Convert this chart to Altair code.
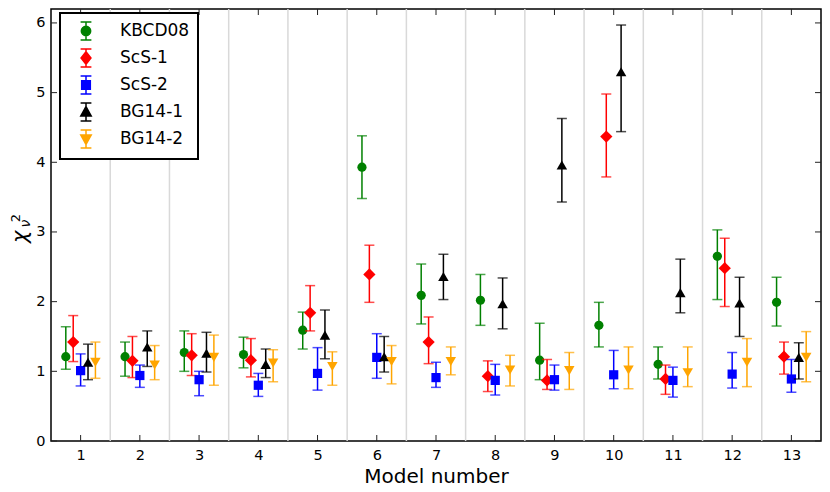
import altair as alt
import pandas as pd

models = list(range(1, 14))
series = ["KBCD08", "ScS-1", "ScS-2", "BG14-1", "BG14-2"]

kbcd_val = [1.21, 1.21, 1.27, 1.24, 1.59, 3.93, 2.09, 2.02, 1.16, 1.66, 1.10, 2.65, 1.99]
kbcd_hi = [1.64, 1.42, 1.58, 1.49, 1.85, 4.38, 2.54, 2.39, 1.69, 1.99, 1.35, 3.03, 2.35]
kbcd_lo = [1.03, 0.93, 1.00, 1.05, 1.32, 3.48, 1.68, 1.66, 0.88, 1.35, 0.89, 2.03, 1.65]

scs1_val = [1.42, 1.15, 1.23, 1.16, 1.84, 2.39, 1.42, 0.93, 0.87, 4.37, 0.89, 2.48, 1.21]
scs1_hi = [1.80, 1.50, 1.54, 1.47, 2.23, 2.81, 1.78, 1.15, 1.17, 4.98, 1.09, 2.91, 1.42]
scs1_lo = [1.14, 0.91, 0.94, 0.92, 1.58, 1.99, 1.11, 0.71, 0.74, 3.79, 0.67, 1.93, 0.96]

scs2_val = [1.01, 0.94, 0.88, 0.80, 0.97, 1.20, 0.91, 0.87, 0.88, 0.95, 0.87, 0.96, 0.89]
scs2_hi = [1.25, 1.09, 1.00, 0.97, 1.34, 1.54, 1.13, 1.10, 1.09, 1.30, 1.06, 1.27, 1.17]
scs2_lo = [0.79, 0.77, 0.65, 0.64, 0.73, 0.90, 0.77, 0.66, 0.73, 0.75, 0.63, 0.76, 0.70]

bg1_val = [1.13, 1.35, 1.26, 1.10, 1.52, 1.21, 2.36, 1.97, 3.96, 5.30, 2.13, 1.98, 1.20]
bg1_hi = [1.39, 1.58, 1.56, 1.32, 1.88, 1.50, 2.68, 2.34, 4.63, 5.97, 2.61, 2.35, 1.41]
bg1_lo = [0.88, 1.07, 0.99, 0.91, 1.18, 0.99, 2.03, 1.61, 3.43, 4.44, 1.84, 1.50, 0.89]

bg2_val = [1.13, 1.09, 1.20, 1.12, 1.07, 1.14, 1.14, 1.02, 1.01, 1.02, 0.98, 1.13, 1.20]
bg2_hi = [1.42, 1.37, 1.52, 1.31, 1.28, 1.37, 1.35, 1.23, 1.27, 1.35, 1.35, 1.47, 1.57]
bg2_lo = [0.90, 0.88, 0.80, 0.85, 0.80, 0.82, 0.95, 0.79, 0.74, 0.75, 0.78, 0.78, 0.85]

y_ticks = [0, 1, 2, 3, 4, 5, 6]
separators = [m + 0.5 for m in models[:-1]]

colors = ["#008000", "#ff0000", "#0000ff", "#000000", "#ffa500"]
shapes = ["circle", "diamond", "square", "triangle-up", "triangle-down"]
sizes = [85, 150, 85, 110, 110]
offsets = [-0.25, -0.125, 0.0, 0.125, 0.25]

table = {
    "KBCD08": (kbcd_val, kbcd_lo, kbcd_hi),
    "ScS-1": (scs1_val, scs1_lo, scs1_hi),
    "ScS-2": (scs2_val, scs2_lo, scs2_hi),
    "BG14-1": (bg1_val, bg1_lo, bg1_hi),
    "BG14-2": (bg2_val, bg2_lo, bg2_hi),
}
rows = []
for s in series:
    v, lo, hi = table[s]
    for m, a, b, c in zip(models, v, lo, hi):
        rows.append({"model": m, "series": s, "val": a, "lo": b, "hi": c})
df = pd.DataFrame(rows)

W, H = 770, 432
FONT = "DejaVu Sans"
xs = alt.Scale(domain=[0.5, 13.5], nice=False, zero=False)
ys = alt.Scale(domain=[0, 6.2], nice=False, zero=True)
cscale = alt.Scale(domain=series, range=colors)

xaxis = alt.Axis(
    values=models, format="d", title="Model number", grid=False,
    ticks=False, domain=False, labelPadding=7, titlePadding=5,
)
yaxis = alt.Axis(
    values=y_ticks, format="d", title="", grid=False,
    ticks=False, domain=False, labelPadding=6,
)

# legend glyphs: error bar + marker, normalised to [-1, 1]
ebar = "M0,-1L0,1M-0.6,-1L0.6,-1M-0.6,1L0.6,1"
glyphs = [
    ebar + "M-0.52,0A0.52,0.52,0,1,1,0.52,0A0.52,0.52,0,1,1,-0.52,0Z",
    ebar + "M0,-0.7L0.55,0L0,0.7L-0.55,0Z",
    ebar + "M-0.48,-0.48L0.48,-0.48L0.48,0.48L-0.48,0.48Z",
    ebar + "M0,-0.6L0.58,0.45L-0.58,0.45Z",
    ebar + "M0,0.6L0.58,-0.45L-0.58,-0.45Z",
]

legend = alt.Legend(
    title=None,
    orient="none",
    legendX=9,
    legendY=4,
    padding=8,
    symbolOffset=8,
    symbolSize=324,
    symbolStrokeWidth=1.5,
    labelOffset=24,
    rowPadding=3,
    labelFont=FONT,
    labelFontSize=17,
    labelColor="black",
    strokeColor="black",
    fillColor="white",
    cornerRadius=0,
)

# vertical separators
grid = alt.Chart(pd.DataFrame({"sep": separators})).mark_rule(
    color="#d9d9d9", strokeWidth=1.5
).encode(
    x=alt.X("sep:Q", scale=xs, axis=xaxis),
    y=alt.value(0),
    y2=alt.value(H),
)

ytick_df = pd.DataFrame({"t": y_ticks})
ytick_left = alt.Chart(ytick_df).mark_rule(color="#222", strokeWidth=1).encode(
    y=alt.Y("t:Q", scale=ys, axis=yaxis),
    x=alt.value(0),
    x2=alt.value(6),
)
ytick_right = alt.Chart(ytick_df).mark_rule(color="#222", strokeWidth=1).encode(
    y=alt.Y("t:Q", scale=ys, axis=yaxis),
    x=alt.value(W - 6),
    x2=alt.value(W),
)
xtick_df = pd.DataFrame({"t": models})
xtick_bottom = alt.Chart(xtick_df).mark_rule(color="#222", strokeWidth=1).encode(
    x=alt.X("t:Q", scale=xs, axis=xaxis),
    y=alt.value(H - 6),
    y2=alt.value(H),
)
xtick_top = alt.Chart(xtick_df).mark_rule(color="#222", strokeWidth=1).encode(
    x=alt.X("t:Q", scale=xs, axis=xaxis),
    y=alt.value(0),
    y2=alt.value(6),
)

layers = [grid, ytick_left, ytick_right, xtick_bottom, xtick_top]

for s, c, shp, sz, off in zip(series, colors, shapes, sizes, offsets):
    base = alt.Chart(df).transform_filter(alt.datum.series == s).transform_calculate(
        xp="datum.model + (" + str(off) + ")"
    )
    bars = base.mark_rule(color=c, strokeWidth=1.5).encode(
        x=alt.X("xp:Q", scale=xs, axis=xaxis),
        y=alt.Y("lo:Q", scale=ys, axis=yaxis),
        y2="hi:Q",
    )
    caps = base.transform_fold(["lo", "hi"], as_=["end", "yv"]).mark_tick(
        orient="horizontal", size=10, thickness=1.5, color=c
    ).encode(
        x=alt.X("xp:Q", scale=xs, axis=xaxis),
        y=alt.Y("yv:Q", scale=ys, axis=yaxis),
    )
    pts = base.mark_point(
        filled=True, opacity=1, size=sz, shape=shp, color=c
    ).encode(
        x=alt.X("xp:Q", scale=xs, axis=xaxis),
        y=alt.Y("val:Q", scale=ys, axis=yaxis),
    )
    layers += [bars, caps, pts]

# legend-only layer (drawn off the plot, clipped away)
leg = alt.Chart(pd.DataFrame({"series": series})).mark_point(
    filled=True, clip=True, opacity=1, strokeWidth=1.5
).encode(
    x=alt.value(-60),
    y=alt.value(-60),
    fill=alt.Fill("series:N", scale=cscale, legend=legend),
    stroke=alt.Stroke("series:N", scale=cscale, legend=legend),
    shape=alt.Shape("series:N", scale=alt.Scale(domain=series, range=glyphs), legend=legend),
)
layers.append(leg)

# y-axis title: chi^2_nu
chi = alt.Chart(pd.DataFrame({"t": ["χ"]})).mark_text(
    angle=270, font=FONT, fontStyle="italic", fontSize=21,
    align="center", baseline="middle", color="black"
).encode(text="t:N", x=alt.value(-30), y=alt.Y(datum=2.93, scale=ys, axis=yaxis))
sup = alt.Chart(pd.DataFrame({"t": ["2"]})).mark_text(
    angle=270, font=FONT, fontSize=13,
    align="center", baseline="middle", color="black"
).encode(text="t:N", x=alt.value(-35), y=alt.Y(datum=3.2, scale=ys, axis=yaxis))
sub = alt.Chart(pd.DataFrame({"t": ["ν"]})).mark_text(
    angle=270, font=FONT, fontStyle="italic", fontSize=14,
    align="center", baseline="middle", color="black"
).encode(text="t:N", x=alt.value(-25), y=alt.Y(datum=3.12, scale=ys, axis=yaxis))
layers += [chi, sup, sub]

chart = alt.layer(*layers).properties(
    width=W,
    height=H,
    padding={"left": 43, "top": 1, "right": 1, "bottom": 49},
    autosize=alt.AutoSizeParams(type="none"),
    background="white",
).configure_view(
    stroke="black", strokeWidth=1.5
).configure_axis(
    labelFont=FONT,
    labelFontSize=14.5,
    labelColor="black",
    titleFont=FONT,
    titleFontSize=20,
    titleFontWeight="normal",
    titleColor="black",
).configure_legend(
    strokeWidth=2
)

chart.save("out.html", embed_options={"renderer": "svg", "actions": False})
